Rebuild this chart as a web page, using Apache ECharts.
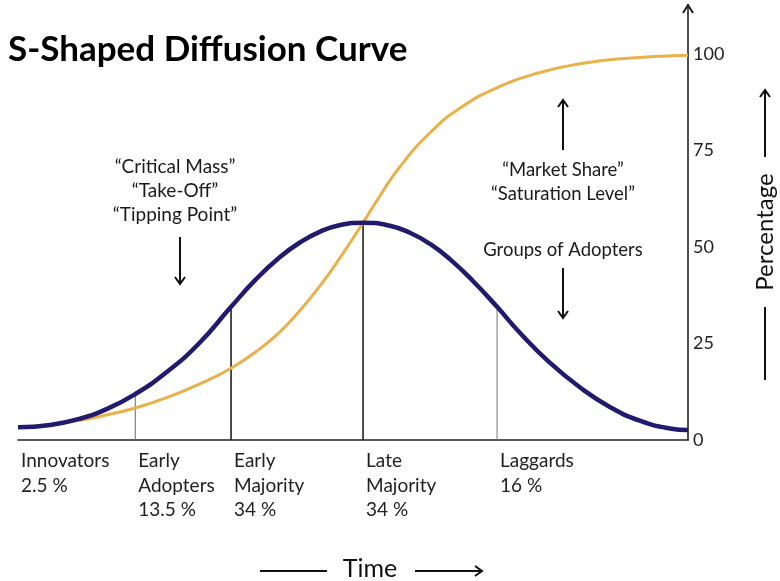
<!DOCTYPE html>
<html><head><meta charset="utf-8">
<script src="https://cdn.jsdelivr.net/npm/echarts@6/dist/echarts.min.js"></script>
<style>html,body{margin:0;padding:0;background:#fff}#c{width:780px;height:581px}</style>
</head><body><div id="c"></div>
<script>
// Time axis runs 0..100 (relative time); percentage axis 0..100
const bellTime = [0, 4.8, 9.2, 13.2, 17.5, 22.2, 27.0, 31.8, 35.5, 39.1, 42.1, 45.1, 48.1, 51.5, 55.5, 58.5, 61.5, 64.5, 67.9, 71.5, 74.9, 79.4, 83.9, 88.4, 92.8, 97.3, 100];
const bellValue = [3.3, 3.9, 5.5, 8.0, 11.9, 17.6, 25.0, 34.5, 41.6, 47.4, 51.2, 54.0, 55.7, 56.3, 55.5, 53.7, 50.8, 46.8, 41.2, 34.5, 27.8, 20.0, 13.6, 8.5, 5.0, 3.0, 2.6];
const sTime = [1.8, 6.3, 9.2, 12.2, 17.5, 22.2, 27.2, 31.8, 36.1, 39.1, 42.1, 45.1, 48.1, 51.5, 54.0, 57.0, 61.5, 66.0, 71.9, 77.9, 83.9, 89.9, 100];
const sValue = [3.4, 4.3, 5.1, 6.1, 8.3, 11.0, 14.6, 18.6, 23.6, 28.0, 33.6, 40.0, 47.3, 56.3, 63.2, 70.8, 79.6, 86.0, 91.6, 95.2, 97.5, 98.8, 99.7];
const divisionTime = [17.5, 31.8, 51.5, 71.5];
const divisionTop = [11.9, 34.5, 56.3, 34.5];
const groupStart = [0, 17.5, 31.8, 51.5, 71.5];
const groupLabels = [
  ['Innovators', '2.5 %'],
  ['Early', 'Adopters', '13.5 %'],
  ['Early', 'Majority', '34 %'],
  ['Late', 'Majority', '34 %'],
  ['Laggards', '16 %']
];
const yTicks = [0, 25, 50, 75, 100];

const FONT = 'Lato';
const BLUE = '#221a6c';
const ORANGE = '#e8b14c';
const divisionColors = ['#666', '#222', '#222', '#777'];
const divisionWidths = [1, 1.6, 1.6, 1];

const chart = echarts.init(document.getElementById('c'), null, {renderer: 'canvas'});

const series = [];
divisionTime.forEach((t, i) => {
  series.push({
    type: 'line', data: [[t, 0], [t, divisionTop[i]]], showSymbol: false, silent: true,
    lineStyle: {color: divisionColors[i], width: divisionWidths[i]}, z: 1
  });
});
series.push({
  type: 'line', smooth: true, showSymbol: false, z: 2,
  data: sTime.map((t, i) => [t, sValue[i]]),
  lineStyle: {color: ORANGE, width: 3}
});
series.push({
  type: 'line', smooth: true, showSymbol: false, z: 3,
  data: bellTime.map((t, i) => [t, bellValue[i]]),
  lineStyle: {color: BLUE, width: 4.5}
});

chart.setOption({
  animation: false,
  backgroundColor: '#fff',
  grid: {left: 18, right: 92, top: 5, bottom: 141, containLabel: false},
  xAxis: {
    type: 'value', min: 0, max: 100,
    axisLine: {show: true, onZero: false, lineStyle: {color: '#222', width: 1.6}},
    axisTick: {show: false}, axisLabel: {show: false}, splitLine: {show: false}
  },
  yAxis: {
    type: 'value', position: 'right', min: 0, max: 112.7, interval: 25,
    axisLine: {show: true, onZero: false, lineStyle: {color: '#222', width: 1.6}},
    axisTick: {show: false}, splitLine: {show: false},
    axisLabel: {
      color: '#222', fontFamily: FONT, fontSize: 18, margin: 5, padding: [0, 0, 6, 0],
      formatter: v => (yTicks.indexOf(v) >= 0 ? String(v) : '')
    }
  },
  series: series
});

// annotations
const g = [];
function arrow(x1, y1, x2, y2, head) {
  const dx = x2 - x1, dy = y2 - y1, L = Math.hypot(dx, dy);
  const ux = dx / L, uy = dy / L, h = head || 7, w = 5;
  g.push({type: 'line', shape: {x1, y1, x2, y2}, style: {stroke: '#111', lineWidth: 2}});
  g.push({type: 'polyline', shape: {points: [
    [x2 - ux * h - uy * w, y2 - uy * h + ux * w], [x2, y2], [x2 - ux * h + uy * w, y2 - uy * h - ux * w]
  ]}, style: {stroke: '#111', lineWidth: 2, fill: null}});
}
function txt(x, y, text, opts) {
  g.push({type: 'text', x, y, style: Object.assign({
    text, fontFamily: FONT, fontSize: 18, fill: '#1a1a1a', align: 'center', verticalAlign: 'middle'
  }, opts || {})});
}

txt(8, 50, 'S-Shaped Diffusion Curve', {fontSize: 35, fontWeight: 'bold', align: 'left', fill: '#000'});

txt(175, 167, '\u201CCritical Mass\u201D', {fontSize: 19});
txt(175, 191, '\u201CTake-Off\u201D', {fontSize: 19});
txt(175, 215, '\u201CTipping Point\u201D', {fontSize: 19});
arrow(180, 237, 180, 284);

arrow(563, 150, 563, 100);
txt(563, 170, '\u201CMarket Share\u201D', {fontSize: 18.5});
txt(563, 194, '\u201CSaturation Level\u201D', {fontSize: 18.5});
txt(563, 250, 'Groups of Adopters', {fontSize: 18.5});
arrow(563, 268, 563, 318);

// Percentage label on right
g.push({type: 'text', x: 765, y: 232, rotation: Math.PI / 2, style: {
  text: 'Percentage', fontFamily: FONT, fontSize: 24, fill: '#111', align: 'center', verticalAlign: 'middle'}});
arrow(765, 157, 765, 90);
g.push({type: 'line', shape: {x1: 765, y1: 307, x2: 765, y2: 380}, style: {stroke: '#111', lineWidth: 2}});

// Time label at bottom
txt(370, 569, 'Time', {fontSize: 25, fill: '#111'});
g.push({type: 'line', shape: {x1: 260, y1: 571, x2: 327, y2: 571}, style: {stroke: '#111', lineWidth: 2}});
arrow(415, 571, 482, 571);

// top arrow of y axis
const topPt = chart.convertToPixel({gridIndex: 0}, [100, 112.7]);
g.push({type: 'polyline', shape: {points: [[topPt[0] - 5, topPt[1] + 8], [topPt[0], topPt[1]], [topPt[0] + 5, topPt[1] + 8]]},
  style: {stroke: '#111', lineWidth: 1.8, fill: null}});

// group labels under the time axis
groupStart.forEach((t, i) => {
  const p = chart.convertToPixel({gridIndex: 0}, [t, 0]);
  groupLabels[i].forEach((line, j) => {
    txt(p[0] + 3, 461 + j * 24.5, line, {align: 'left', fontSize: 19, fill: '#222'});
  });
});

chart.setOption({graphic: {elements: g}});
</script></body></html>
